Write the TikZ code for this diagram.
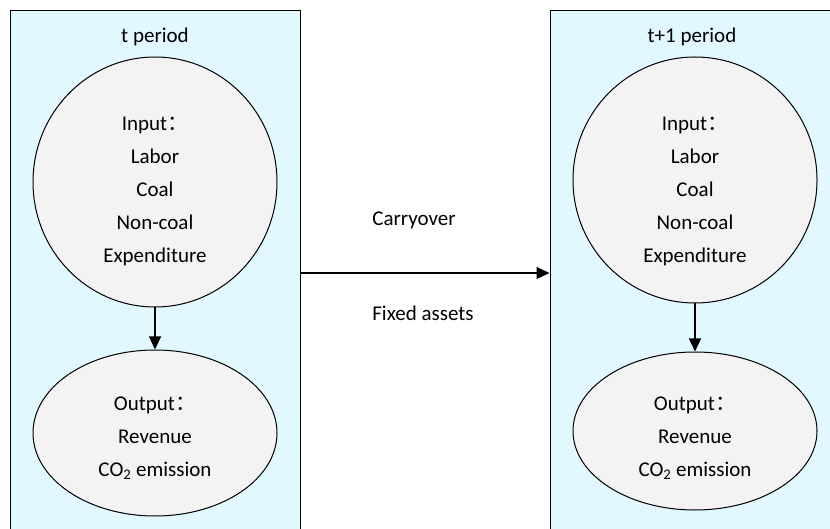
\documentclass[tikz,border=0pt]{standalone}
\usepackage{fontspec}
\setmainfont{Carlito}
\newfontfamily\cjk{Noto Sans CJK SC}
\usetikzlibrary{arrows.meta,positioning,shapes.geometric,shadows}
\definecolor{boxblue}{HTML}{E1F8FF}
\definecolor{bubblegray}{HTML}{F3F3F3}

\begin{document}
\begin{tikzpicture}[x=1pt,y=-1pt,font=\fontsize{21}{33}\selectfont,
    period/.style={draw,line width=1pt,fill=boxblue,minimum width=290pt,
        minimum height=524pt,inner sep=0pt,
        drop shadow={shadow xshift=1pt,shadow yshift=-1pt,fill=black!45,opacity=1}},
    bubble/.style={ellipse,draw,line width=1pt,fill=bubblegray,inner sep=0pt},
    flow/.style={-{Triangle[length=13pt,width=12pt]},line width=1.2pt}]

    \useasboundingbox (0,0) rectangle (830,529);
    \clip (0,0) rectangle (830,529);

    % 1. The two period panels
    \node[period] (tbox) at (155,273) {};
    \node[period] (nbox) at (695,273) {};
    \node (tlab) at (155,37) {t period};
    \node (nlab) at (692,37) {t+1 period};

    % 2. Period t
    \node[bubble,minimum width=244pt,minimum height=250pt] (tin) at (155,182) {};
    \node[bubble,minimum width=244pt,minimum height=166pt] (tout) at (155,433) {};
    \node[align=center] (tintext) at (155,191)
        {Input{\cjk ：}\\ Labor\\ Coal\\ Non-coal\\ Expenditure};
    \node[align=center] (touttext) at (155,438)
        {Output{\cjk ：}\\ Revenue\\ CO\textsubscript{2} emission};
    \draw[flow] (tin) -- (tout);

    % 3. Period t+1
    \node[bubble,minimum width=244pt,minimum height=246pt] (nin) at (695,180) {};
    \node[bubble,minimum width=244pt,minimum height=158pt] (nout) at (695,431) {};
    \node[align=center] (nintext) at (695,191)
        {Input{\cjk ：}\\ Labor\\ Coal\\ Non-coal\\ Expenditure};
    \node[align=center] (nouttext) at (695,438)
        {Output{\cjk ：}\\ Revenue\\ CO\textsubscript{2} emission};
    \draw[flow] (nin) -- (nout);

    % 4. Carryover between the periods
    \draw[flow] (tbox) -- (nbox);
    \node (carry) at (414,220) {Carryover};
    \node (fixed) at (423,313) {Fixed assets};

\end{tikzpicture}
\end{document}
